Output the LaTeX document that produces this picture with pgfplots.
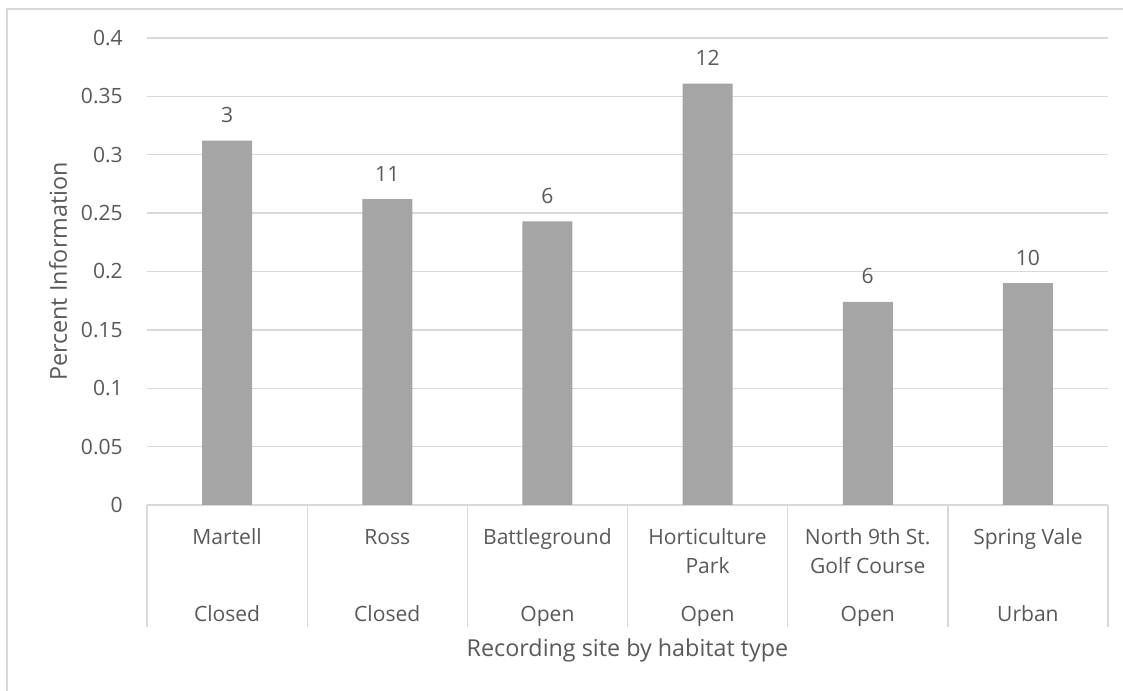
\documentclass[border=0pt]{standalone}
\usepackage{pgfplots}
\pgfplotsset{compat=1.18}
\usepackage{fontspec}
\setmainfont{Open Sans}
\definecolor{barc}{HTML}{A5A5A5}
\definecolor{gridc}{HTML}{D9D9D9}
\definecolor{txt}{HTML}{595959}
\newcommand\lblfont{\fontsize{15.8pt}{21.75pt}\selectfont}
\newcommand\ttlfont{\fontsize{17.5pt}{21pt}\selectfont}
\begin{document}
\begin{tikzpicture}
\path[use as bounding box] (-110.25pt,-139.5pt) rectangle (732pt,378.75pt);
\draw[gridc, line width=1pt] (-105pt,-139.5pt) -- (-105pt,372pt) -- (732pt,372pt);
\begin{axis}[
  at={(0pt,0pt)}, anchor=south west,
  scale only axis, width=720.75pt, height=350.25pt,
  xmin=-0.5, xmax=5.5, ymin=0, ymax=0.4,
  axis x line*=bottom, axis y line*=left,
  y axis line style={draw=none},
  x axis line style={gridc, line width=1pt},
  ytick={0,0.05,0.1,0.15,0.2,0.25,0.3,0.35,0.4},
  yticklabels={0,0.05,0.1,0.15,0.2,0.25,0.3,0.35,0.4},
  ymajorgrids, grid style={gridc, line width=1pt},
  major tick length=0pt,
  xtick={0,1,2,3,4,5},
  xticklabels={\strut Martell, \strut Ross, \strut Battleground, {\strut Horticulture\\Park}, {\strut North 9th St.\\Golf Course}, {\strut Spring Vale}},
  minor xtick={-0.5,0.5,1.5,2.5,3.5,4.5,5.5},
  minor tick length=91.5pt, tick align=outside,
  minor tick style={gridc, line width=1pt},
  extra x ticks={0,1,2,3,4,5},
  extra x tick labels={\strut Closed,\strut Closed,\strut Open,\strut Open,\strut Open,\strut Urban},
  extra x tick style={xticklabel style={yshift=-57.75pt}},
  xticklabel style={anchor=north, inner sep=0pt, align=center, yshift=-14.025pt, font=\lblfont, text=txt},
  yticklabel style={anchor=east, inner sep=0pt, xshift=-18pt, font=\lblfont, text=txt},
  ybar, bar width=37.5pt,
  nodes near coords,
  point meta=explicit symbolic,
  nodes near coords style={anchor=base, inner sep=0pt, yshift=13.5pt, font=\lblfont, text=txt},
]
\addplot[fill=barc, draw=none] coordinates {
  (0,0.312) [3]
  (1,0.262) [11]
  (2,0.243) [6]
  (3,0.361) [12]
  (4,0.174) [6]
  (5,0.190) [10]
};
\end{axis}
\node[rotate=90, anchor=base, font=\ttlfont, text=txt] at (-60pt,175.125pt) {Percent Information};
\node[anchor=base, font=\ttlfont, text=txt] at (360.375pt,-114pt) {Recording site by habitat type};
\end{tikzpicture}
\end{document}
